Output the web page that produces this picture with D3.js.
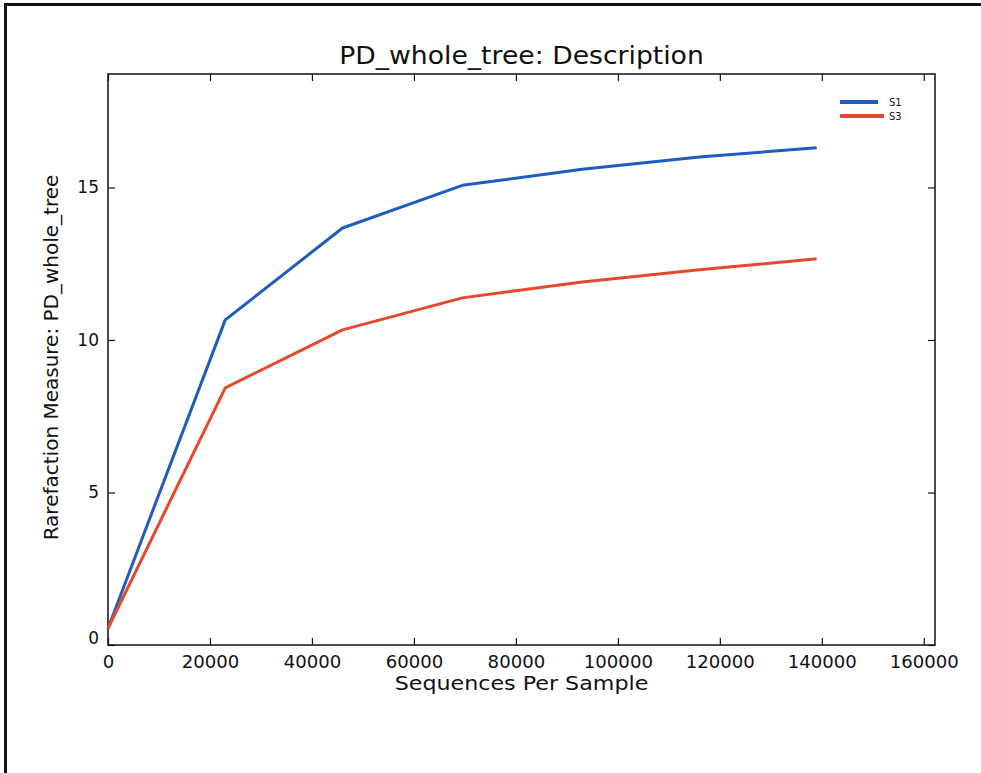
<!DOCTYPE html>
<html>
<head>
<meta charset="utf-8">
<script src="https://cdn.jsdelivr.net/npm/d3@7"></script>
<style>
  body { margin: 0; background: #fff; }
  text { font-family: "DejaVu Sans", sans-serif; fill: #111; }
</style>
</head>
<body>
<div id="chart"></div>
<script>
const seqDepths = [10, 23000, 46000, 69500, 93000, 116000, 139000];
const s1Values = [0.55, 10.66, 13.67, 15.07, 15.6, 16.0, 16.3];
const s3Values = [0.55, 8.43, 10.33, 11.38, 11.9, 12.3, 12.66];
const seriesNames = ['S1', 'S3'];
const seriesColors = ['#1f5cc0', '#e4492d'];
const xTicks = [0, 20000, 40000, 60000, 80000, 100000, 120000, 140000, 160000];
const yTicks = [0, 5, 10, 15];

const W = 981, H = 773;
const m = { left: 108, right: 935, top: 74, bottom: 645 };
const stretch = 1.11; // the picture is a bit wider than tall

const svg = d3.select('#chart').append('svg')
  .attr('width', W)
  .attr('height', H);

// outer frame (top and left edges only)
svg.append('line').attr('x1', 5).attr('x2', W).attr('y1', 4.5).attr('y2', 4.5)
  .attr('stroke', '#111').attr('stroke-width', 3);
svg.append('line').attr('x1', 5.5).attr('x2', 5.5).attr('y1', 3).attr('y2', H)
  .attr('stroke', '#111').attr('stroke-width', 3);

const x = d3.scaleLinear().domain([0, 162200]).range([m.left, m.right]);
const y = d3.scaleLinear().domain([0, 18.72]).range([m.bottom, m.top]);

function wideText(px, py, size, str) {
  return svg.append('text')
    .attr('transform', `translate(${px},${py}) scale(${stretch},1)`)
    .attr('text-anchor', 'middle')
    .style('font-size', size + 'px')
    .text(str);
}

wideText((m.left + m.right) / 2, 64, 24, 'PD_whole_tree: Description');

// inward ticks on all four sides
svg.append('g')
  .attr('transform', `translate(0,${m.bottom})`)
  .call(d3.axisBottom(x).tickValues(xTicks).tickFormat(d3.format('d')).tickSizeInner(-7).tickSizeOuter(0).tickPadding(11))
  .call(g => g.select('.domain').remove())
  .call(g => g.selectAll('text').style('font-size', '17px').attr('fill', '#111')
    .attr('transform', `scale(${stretch * 0.96},1)`));

svg.append('g')
  .attr('transform', `translate(0,${m.top})`)
  .call(d3.axisTop(x).tickValues(xTicks).tickFormat('').tickSizeInner(-7).tickSizeOuter(0))
  .call(g => g.select('.domain').remove());

svg.append('g')
  .attr('transform', `translate(${m.left},0)`)
  .call(d3.axisLeft(y).tickValues(yTicks).tickFormat(d3.format('d')).tickSizeInner(-7).tickSizeOuter(0).tickPadding(9))
  .call(g => g.select('.domain').remove())
  .call(g => g.selectAll('text').style('font-size', '17px').attr('fill', '#111'))
  .call(g => g.selectAll('.tick').filter(d => d === 0).select('text').attr('dy', '-0.1em'));

svg.append('g')
  .attr('transform', `translate(${m.right},0)`)
  .call(d3.axisRight(y).tickValues(yTicks).tickFormat('').tickSizeInner(-7).tickSizeOuter(0))
  .call(g => g.select('.domain').remove());

svg.selectAll('.tick line').attr('stroke', '#111').attr('stroke-width', 1.2);

svg.append('rect')
  .attr('x', m.left).attr('y', m.top)
  .attr('width', m.right - m.left).attr('height', m.bottom - m.top)
  .attr('fill', 'none').attr('stroke', '#111').attr('stroke-width', 1.5);

const line = d3.line().x(d => x(d[0])).y(d => y(d[1]));
[s1Values, s3Values].forEach((vals, i) => {
  svg.append('path')
    .datum(seqDepths.map((d, j) => [d, vals[j]]))
    .attr('d', line)
    .attr('fill', 'none')
    .attr('stroke', seriesColors[i])
    .attr('stroke-width', 3)
    .attr('stroke-linejoin', 'round');
});

// legend
const legend = svg.append('g').attr('transform', 'translate(840,102)');
seriesNames.forEach((name, i) => {
  legend.append('line')
    .attr('x1', 0).attr('x2', i === 0 ? 38 : 44)
    .attr('y1', i * 14).attr('y2', i * 14)
    .attr('stroke', seriesColors[i]).attr('stroke-width', 4);
  legend.append('text')
    .attr('x', 49).attr('y', i * 14 + 3.5)
    .style('font-size', '10px')
    .text(name);
});

wideText((m.left + m.right) / 2, 690, 20, 'Sequences Per Sample');

svg.append('text')
  .attr('transform', `translate(58,${(m.top + m.bottom) / 2 - 2}) rotate(-90)`)
  .attr('text-anchor', 'middle')
  .style('font-size', '20px')
  .text('Rarefaction Measure: PD_whole_tree');
</script>
</body>
</html>
